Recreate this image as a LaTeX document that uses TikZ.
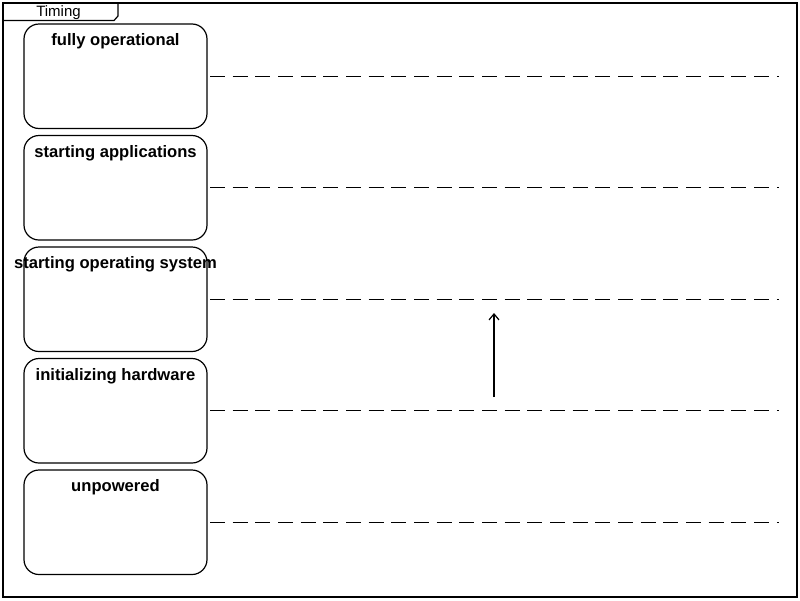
\documentclass[tikz,border=0pt]{standalone}
\usepackage{fontspec}
\setmainfont{Liberation Sans}
\usetikzlibrary{arrows.meta}
\begin{document}
\begin{tikzpicture}[x=1pt,y=-1pt,
  statebox/.style={draw=black, line width=1.2pt, rounded corners=15pt},
  statelabel/.style={font=\bfseries\fontsize{16.6}{18}\selectfont, anchor=base, inner sep=0pt},
  levelline/.style={draw=black, line width=1.2pt, dash pattern=on 15pt off 7.67pt},
  frameline/.style={draw=black, line width=1.2pt}
]
\useasboundingbox (0,0) rectangle (800,600);
\fill[white] (0,0) rectangle (800,600);
% frame
\draw[frameline] (3,3) rectangle (797,597);
\draw[frameline] (3,20.5) -- (114,20.5) -- (118,16) -- (118,3);
\node[font=\fontsize{15}{17}\selectfont, anchor=base, inner sep=0pt] (title) at (58.5,16) {Timing};
% states
\foreach \n/\y in {s1/24, s2/135.5, s3/247, s4/358.5, s5/470}{
  \draw[statebox] (24,\y) rectangle (207,\y+104.5);
  \coordinate (\n-l) at (210,\y+52.25);
  \coordinate (\n-r) at (779,\y+52.25);
  \draw[levelline] (\n-l) -- (\n-r);
}
\node[statelabel] (t1) at (115.5,45.5) {fully operational};
\node[statelabel] (t2) at (115.5,157) {starting applications};
\node[statelabel] (t3) at (115.5,268.5) {starting operating system};
\node[statelabel] (t4) at (115.5,380) {initializing hardware};
\node[statelabel] (t5) at (115.5,491.5) {unpowered};
% transition arrow
\coordinate (a0) at (494,397);
\coordinate (a1) at (494,313);
\draw[line width=1.2pt, -{Straight Barb[length=6pt,width=10pt]}] (a0) -- (a1);
\end{tikzpicture}
\end{document}
